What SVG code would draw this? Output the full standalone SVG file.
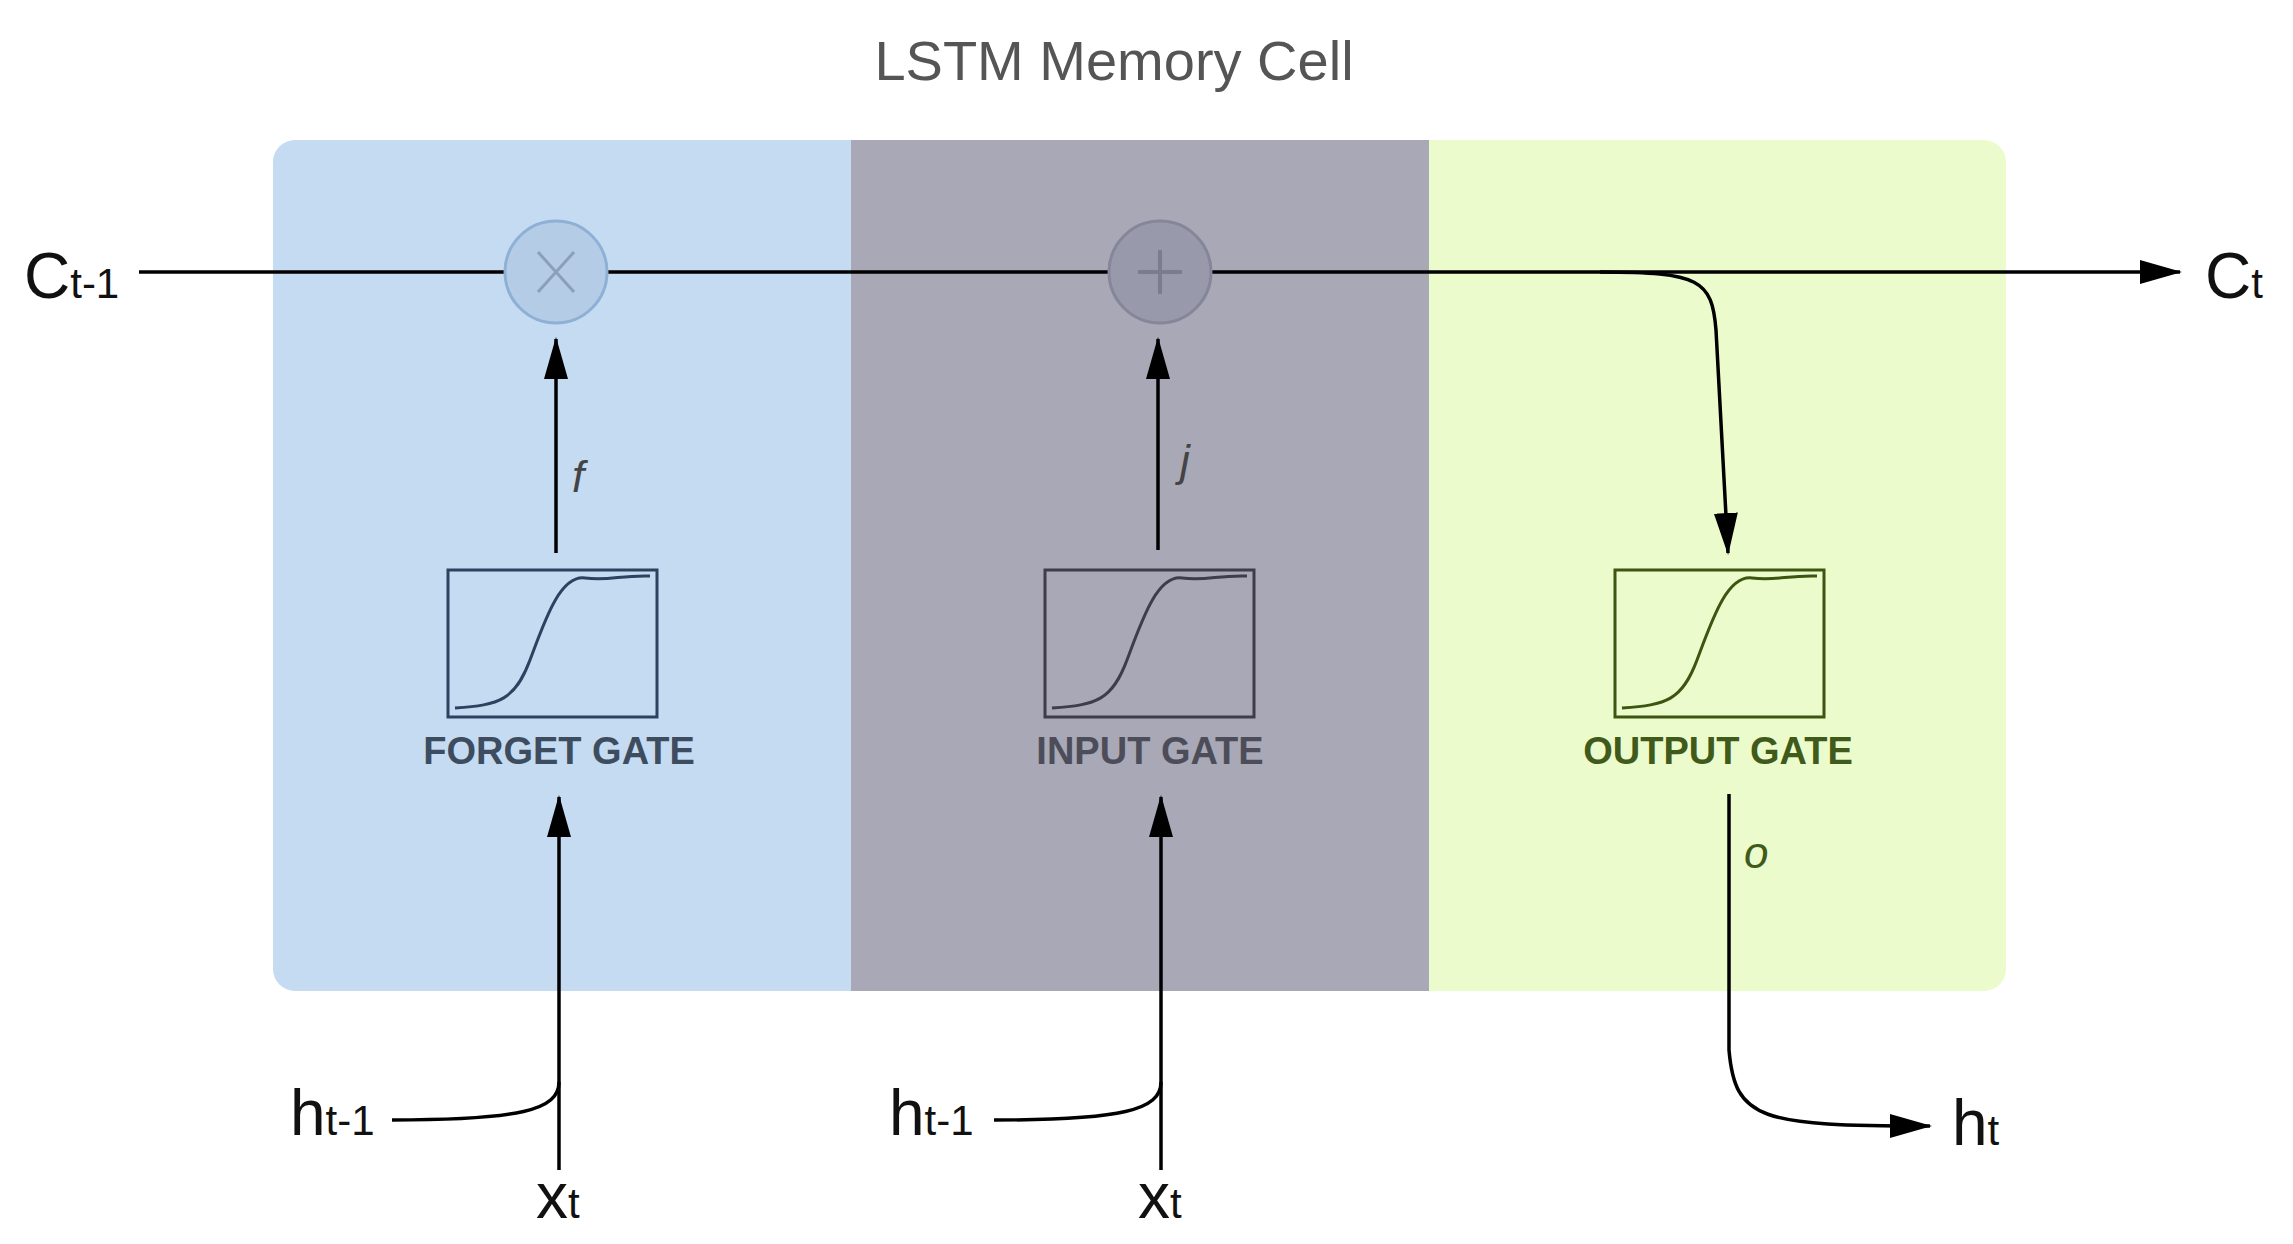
<svg xmlns="http://www.w3.org/2000/svg" width="2293" height="1244" viewBox="0 0 2293 1244">
<style>
text{font-family:"Liberation Sans",Arial,sans-serif}
.big{font-size:64px;fill:#111}
.sub{font-size:42px;fill:#111}
.gl{font-size:38px;font-weight:bold}
.it{font-size:44px;font-style:italic}
.ln{fill:none;stroke:#000;stroke-width:3.5}
</style>
<defs>
<marker id="ah" markerUnits="userSpaceOnUse" markerWidth="44" markerHeight="24" refX="40" refY="12" orient="auto"><path d="M0,0 L42,12 L0,24 Z" fill="#000"/></marker>
<clipPath id="pc"><rect x="273" y="140" width="1733" height="851" rx="22"/></clipPath>
</defs>
<rect width="2293" height="1244" fill="#fff"/>
<text x="1114" y="80" text-anchor="middle" style="font-size:56px;fill:#555">LSTM Memory Cell</text>
<g clip-path="url(#pc)">
<rect x="273" y="140" width="578" height="851" fill="#c5dbf2"/>
<rect x="851" y="140" width="578" height="851" fill="#a8a8b6"/>
<rect x="1429" y="140" width="577" height="851" fill="#ecfbcc"/>
</g>
<g id="connectors">
<path class="ln" d="M139,272 H504"/>
<path class="ln" d="M608,272 H1108"/>
<path class="ln" d="M1212,272 H2180" marker-end="url(#ah)"/>
<path class="ln" d="M1600,272 C1700,272 1712,280 1716,330 L1728,553" marker-end="url(#ah)"/>
<path class="ln" d="M556,553 V339" marker-end="url(#ah)"/>
<path class="ln" d="M1158,550 V339" marker-end="url(#ah)"/>
<path class="ln" d="M559,1170 V797" marker-end="url(#ah)"/>
<path class="ln" d="M1161,1170 V797" marker-end="url(#ah)"/>
<path class="ln" d="M392,1120 C520,1120 559,1110 559,1082"/>
<path class="ln" d="M994,1120 C1122,1120 1161,1110 1161,1082"/>
<path class="ln" d="M1729,794 V1050 C1735,1120 1760,1126 1930,1126" marker-end="url(#ah)"/>
</g>
<g id="forget-mult">
<circle cx="556" cy="272" r="51" fill="#b5cce6" stroke="#8fb0d6" stroke-width="3"/>
<path d="M538,252 L574,292 M574,252 L538,292" stroke="#8aa0bb" stroke-width="3"/>
</g>
<g id="input-add">
<circle cx="1160" cy="272" r="51" fill="#9899aa" stroke="#85869a" stroke-width="3"/>
<path d="M1160,250 V294 M1138,272 H1182" stroke="#7b7c8c" stroke-width="4"/>
</g>
<g id="forget-gate">
<rect x="448" y="570" width="209" height="147" fill="none" stroke="#2c4260" stroke-width="3"/>
<path d="M455,708 C500,705 515,700 530,660 S560,575 585,578 S620,575 650,576" fill="none" stroke="#2c4260" stroke-width="3"/>
<text class="gl" x="559" y="764" text-anchor="middle" fill="#3e4c60">FORGET GATE</text>
</g>
<g id="input-gate">
<rect x="1045" y="570" width="209" height="147" fill="none" stroke="#3d3d4c" stroke-width="3"/>
<path d="M1052,708 C1097,705 1112,700 1127,660 S1157,575 1182,578 S1217,575 1247,576" fill="none" stroke="#3d3d4c" stroke-width="3"/>
<text class="gl" x="1150" y="764" text-anchor="middle" fill="#4d4d5a">INPUT GATE</text>
</g>
<g id="output-gate">
<rect x="1615" y="570" width="209" height="147" fill="none" stroke="#3c5510" stroke-width="3"/>
<path d="M1622,708 C1667,705 1682,700 1697,660 S1727,575 1752,578 S1787,575 1817,576" fill="none" stroke="#3c5510" stroke-width="3"/>
<text class="gl" x="1718" y="764" text-anchor="middle" fill="#3f5a1a">OUTPUT GATE</text>
</g>
<g id="labels">
<text class="it" x="572" y="492" fill="#444">f</text>
<text class="it" x="1180" y="476" fill="#444">j</text>
<text class="it" x="1744" y="868" fill="#3f5a1a">o</text>
<text class="big" x="24" y="298">C<tspan class="sub">t-1</tspan></text>
<text class="big" x="2205" y="298">C<tspan class="sub">t</tspan></text>
<text class="big" x="290" y="1135">h<tspan class="sub">t-1</tspan></text>
<text class="big" x="889" y="1135">h<tspan class="sub">t-1</tspan></text>
<text class="big" x="1952" y="1145">h<tspan class="sub">t</tspan></text>
<text class="big" x="536" y="1218">x<tspan class="sub">t</tspan></text>
<text class="big" x="1138" y="1218">x<tspan class="sub">t</tspan></text>
</g>
</svg>
